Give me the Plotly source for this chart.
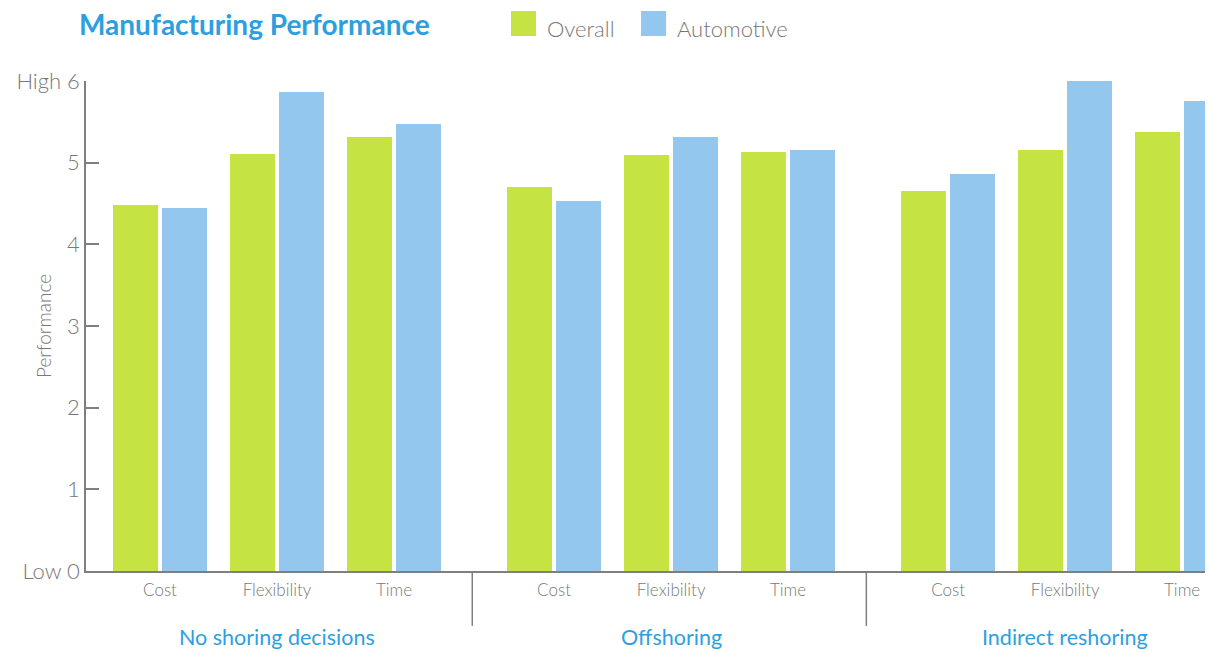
import plotly.graph_objects as go

# ---- data ----
groups = ["No shoring decisions", "Offshoring", "Indirect reshoring"]
measures = ["Cost", "Flexibility", "Time"]
overall = [4.48, 5.11, 5.32, 4.70, 5.09, 5.13, 4.65, 5.15, 5.37]
automotive = [4.44, 5.86, 5.47, 4.53, 5.32, 5.15, 4.86, 6.00, 5.75]
y_ticks = [0, 1, 2, 3, 4, 5, 6]
y_tick_labels = ["Low 0", "1", "2", "3", "4", "5", "High 6"]
series_names = ["Overall", "Automotive"]

# ---- style ----
GREEN = "#c5e343"
BLUE = "#93c7ed"
TITLE_BLUE = "#2d9fe0"
GRAY = "#7f7f7f"
TEXT_GRAY = "#777777"
FONT = "Lato"

W, H = 1205, 644          # page body has an 8px margin
GROUP_PERIOD = 3.368      # spacing between group starts, in category steps
BAR_W = 0.385

xs = [g * GROUP_PERIOD + c for g in range(len(groups)) for c in range(len(measures))]
tick_text = measures * len(groups)

fig = go.Figure()
fig.add_trace(go.Bar(name=series_names[0], x=xs, y=overall, width=BAR_W, offset=-0.402,
                     marker=dict(color=GREEN, line=dict(width=0)), showlegend=False))
fig.add_trace(go.Bar(name=series_names[1], x=xs, y=automotive, width=BAR_W, offset=0.017,
                     marker=dict(color=BLUE, line=dict(width=0)), showlegend=False))

# group labels and dividers
annotations = []
shapes = []
for g, name in enumerate(groups):
    annotations.append(dict(x=g * GROUP_PERIOD + 1, y=-0.134, xref="x", yref="paper",
                            text=name, showarrow=False, yanchor="middle",
                            font=dict(family=FONT, size=21.5, color=TITLE_BLUE)))
    if g < len(groups) - 1:
        xd = g * GROUP_PERIOD + 2 + (GROUP_PERIOD - 2) / 2 - 0.015
        shapes.append(dict(type="line", xref="x", yref="paper", x0=xd, x1=xd, y0=0, y1=-0.112,
                           line=dict(color=GRAY, width=1.5)))

# y-axis title
annotations.append(dict(x=-0.0382, y=0.5, xref="paper", yref="paper", text="Performance",
                        textangle=-90, showarrow=False, xanchor="center", yanchor="middle",
                        font=dict(family=FONT, size=19, color=TEXT_GRAY, weight=300)))

# manual legend
legend_colors = [GREEN, BLUE]
legend_x = [0.3771, 0.4925]
for name, col, lx in zip(series_names, legend_colors, legend_x):
    shapes.append(dict(type="rect", xref="paper", yref="paper", x0=lx, x1=lx + 0.0222,
                       y0=1.0918, y1=1.1429, fillcolor=col, line=dict(width=0)))
    annotations.append(dict(x=lx + 0.0300, y=1.108, xref="paper", yref="paper", text=name,
                            showarrow=False, xanchor="left", yanchor="middle",
                            font=dict(family=FONT, size=22, color=TEXT_GRAY, weight=300)))

fig.update_layout(
    width=W, height=H,
    margin=dict(l=78, r=0, t=73, b=81),
    paper_bgcolor="white", plot_bgcolor="white",
    title=dict(text="Manufacturing Performance", xref="container", yref="container",
               x=71 / W, xanchor="left", y=1 - 17 / H, yanchor="middle",
               font=dict(family=FONT, size=28, color=TITLE_BLUE, weight=700)),
    annotations=annotations,
    shapes=shapes,
    bargap=0,
    xaxis=dict(range=[-0.6325, 9.0], tickvals=xs, ticktext=tick_text, ticks="",
               showline=True, linecolor=GRAY, linewidth=1.5, showgrid=False, zeroline=False,
               ticklabelstandoff=3,
               tickfont=dict(family=FONT, size=17, color=TEXT_GRAY, weight=300)),
    yaxis=dict(range=[0, 6], tickvals=y_ticks, ticktext=y_tick_labels, ticks="inside",
               ticklen=13, tickwidth=1.5, tickcolor=GRAY, showline=True, linecolor=GRAY,
               linewidth=1.5, showgrid=False, zeroline=False,
               tickfont=dict(family=FONT, size=22, color=TEXT_GRAY, weight=300)),
    font=dict(family=FONT),
)

fig.write_html("out.html")
